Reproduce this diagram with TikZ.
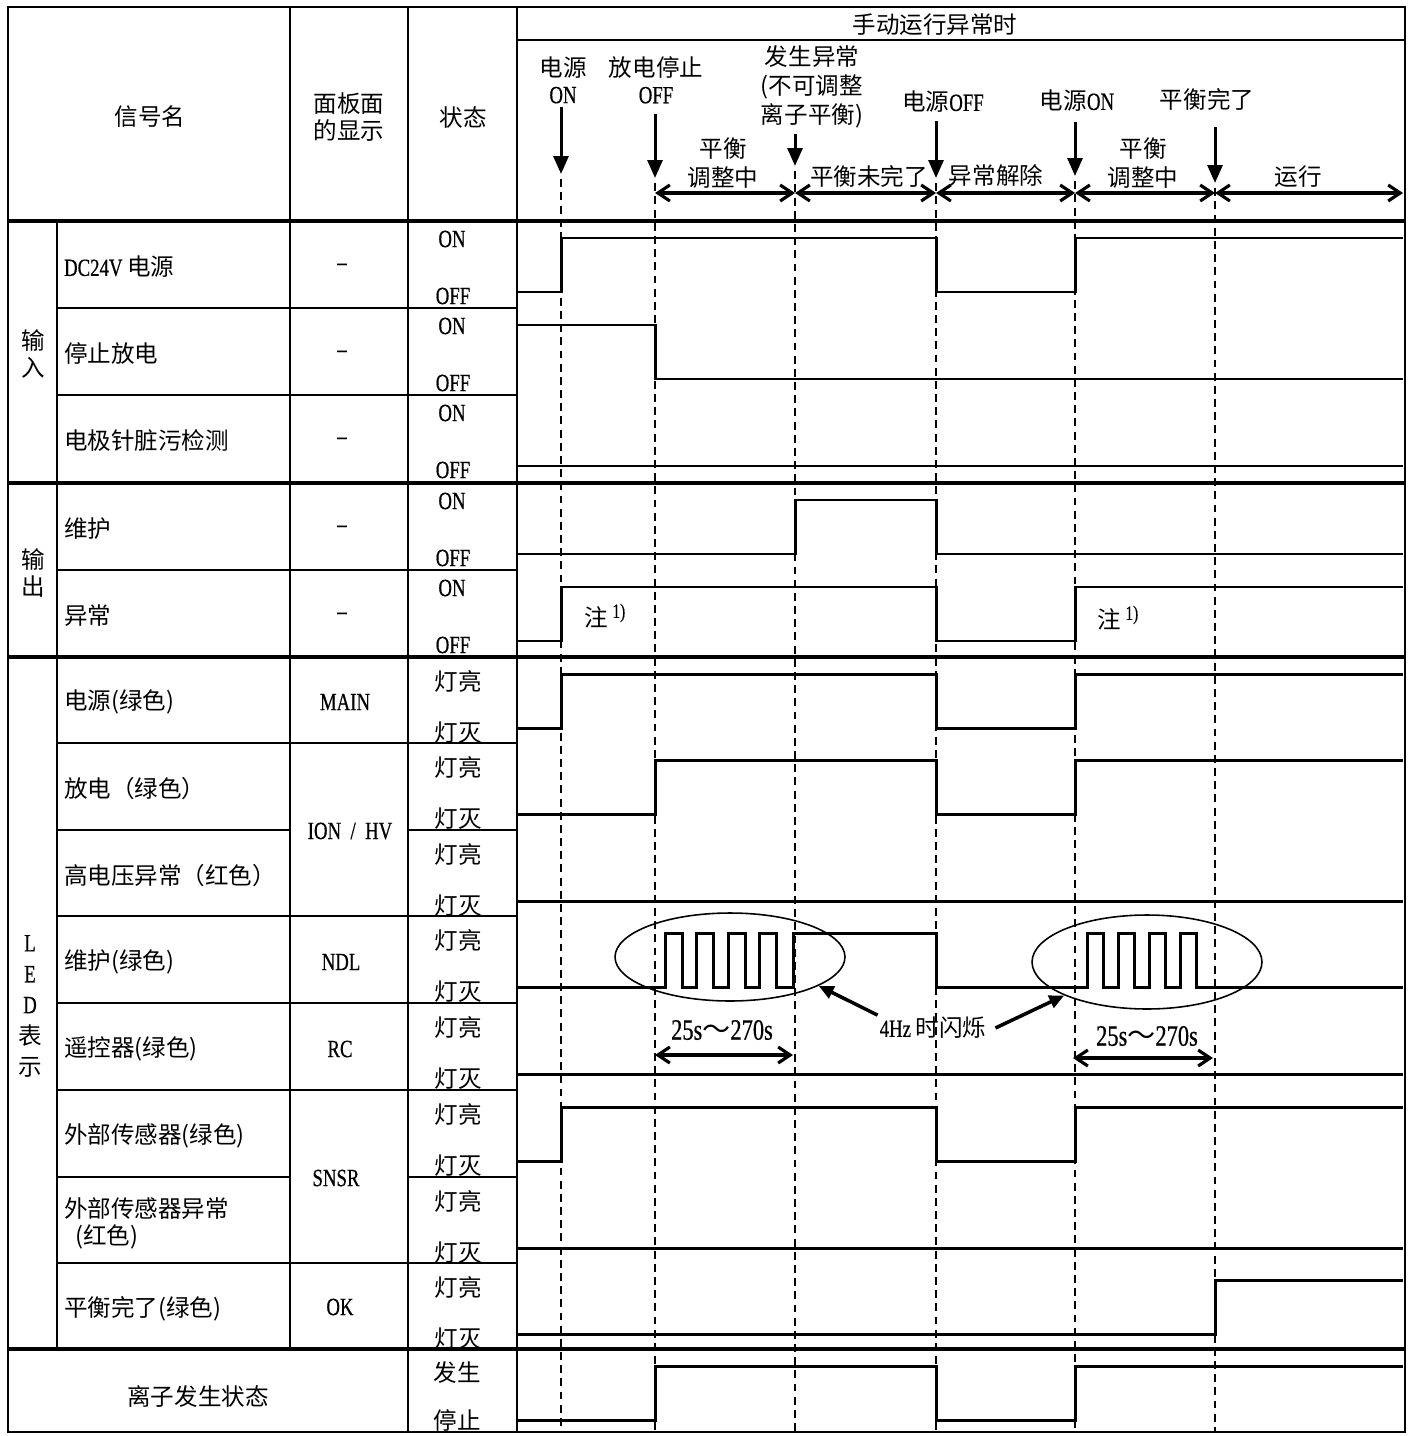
\documentclass[tikz,border=0pt]{standalone}
\usepackage{fontspec}
\setmainfont{Liberation Serif}[FakeStretch=0.76, Scale=1.05, FakeBold=0.5]
\newfontfamily\cjk{Noto Sans CJK SC}
\usepackage{tikz}
\usetikzlibrary{arrows.meta, positioning, calc, shapes.geometric}

\newcommand{\zh}[1]{{\cjk #1}}

\tikzstyle{tabline} = [line width=1.1pt]
\tikzstyle{groupline} = [line width=2.8pt]
\tikzstyle{wave} = [line width=1.7pt, line join=miter]
\tikzstyle{guide} = [line width=1.5pt, dash pattern=on 4.5pt off 3pt]
\tikzstyle{evarrow} = [-{Triangle[length=3.6mm,width=3mm]}, line width=1.7pt]
\tikzstyle{spanarrow} = [{Straight Barb[length=2.4mm,width=3.2mm]}-{Straight Barb[length=2.4mm,width=3.2mm]}, line width=1.8pt]
\tikzstyle{pointer} = [-{Triangle[length=3mm,width=2.6mm]}, line width=2pt]
\tikzstyle{txt} = [inner sep=1pt, font=\fontsize{13.4}{15.3}\selectfont]
\tikzstyle{rowname} = [txt, anchor=west]
\tikzstyle{ring} = [draw, ellipse, line width=0.9pt, minimum width=4.6cm, inner sep=0pt]

\begin{document}
\begin{tikzpicture}[x=0.02cm, y=-0.02cm]
    \useasboundingbox (0,0) rectangle (1414,1436);
    \coordinate (bottom) at (0,1432);

    % Table rules
    \draw[tabline] (8,7) rectangle (1405,1432);
    \draw[tabline] (517,40) -- (1405,40);
    \foreach \x in {290,408} \draw[tabline] (\x,7) -- (\x,221);
    \draw[tabline] (517,7) -- (517,1432);
    \draw[tabline] (408,221) -- (408,1432);
    \foreach \x in {57,290} \draw[tabline] (\x,221) -- (\x,1349);
    \foreach \y in {308,395,570,743,916,1003,1090,1263} \draw[tabline] (57,\y) -- (517,\y);
    \foreach \y in {830,1177} {
        \draw[tabline] (57,\y) -- (290,\y);
        \draw[tabline] (408,\y) -- (517,\y);
    }
    \foreach \y in {221,483,657,1349} \draw[groupline] (8,\y) -- (1405,\y);

    % Header
    \node[txt] (hName) at (150,117) {\zh{信号名}};
    \node[txt, align=center] (hPanel) at (349,117) {\zh{面板面}\\\zh{的显示}};
    \node[txt] (hState) at (463,117) {\zh{状态}};
    \node[txt] (hMode) at (935,25) {\zh{手动运行异常时}};

    % Groups
    \node[txt, align=center] (grpIn) at (33,354) {\zh{输}\\\zh{入}};
    \node[txt, align=center] (grpOut) at (33,573) {\zh{输}\\\zh{出}};
    \node[txt, align=center, font=\fontsize{13.4}{17.6}\selectfont] (grpLed) at (30,1006) {L\\E\\D\\\zh{表}\\\zh{示}};
    \node[txt] (ionName) at (198,1396) {\zh{离子发生状态}};

    % Signal names
    \node[rowname] (sig1) at (62,267) {DC24V \zh{电源}};
    \node[rowname] (sig2) at (62,354) {\zh{停止放电}};
    \node[rowname] (sig3) at (62,441) {\zh{电极针脏污检测}};
    \node[rowname] (sig4) at (62,529) {\zh{维护}};
    \node[rowname] (sig5) at (62,616) {\zh{异常}};
    \node[rowname] (sig6) at (62,702) {\zh{电源(绿色)}};
    \node[rowname] (sig7) at (62,789) {\zh{放电（绿色）}};
    \node[rowname] (sig8) at (62,876) {\zh{高电压异常（红色）}};
    \node[rowname] (sig9) at (62,962) {\zh{维护(绿色)}};
    \node[rowname] (sig10) at (62,1049) {\zh{遥控器(绿色)}};
    \node[rowname] (sig11) at (62,1136) {\zh{外部传感器(绿色)}};
    \node[rowname, align=left] (sig12) at (62,1223) {\zh{外部传感器异常}\\\hspace*{0.45em}\zh{(红色)}};
    \node[rowname] (sig13) at (62,1309) {\zh{平衡完了(绿色)}};

    % Panel display
    \foreach \t [count=\i] in {221,308,395,483,570} \node[txt] (dash\i) at (342,\t+46) {--};
    \node[txt] (pMain) at (345,702) {MAIN};
    \node[txt] (pIon) at (350,831) {ION \ / \ HV};
    \node[txt] (pNdl) at (341,962) {NDL};
    \node[txt] (pRc) at (340,1049) {RC};
    \node[txt] (pSnsr) at (336,1178) {SNSR};
    \node[txt] (pOk) at (340,1307) {OK};

    % States
    \foreach \t [count=\i] in {221,308,395,483,570} {
        \node[txt] (on\i) at (452,\t+18) {ON};
        \node[txt] (off\i) at (453,\t+75) {OFF};
    }
    \foreach \t [count=\i] in {657,743,830,916,1003,1090,1177,1263} {
        \node[txt] (lit\i) at (458,\t+24) {\zh{灯亮}};
        \node[txt] (dark\i) at (458,\t+76) {\zh{灯灭}};
    }
    \node[txt] (ionOn) at (457,1373) {\zh{发生}};
    \node[txt] (ionOff) at (457,1420) {\zh{停止}};

    % Events
    \coordinate (gA) at (561,174);
    \coordinate (gB) at (655,178);
    \coordinate (gC) at (795,166);
    \coordinate (gD) at (936,178);
    \coordinate (gE) at (1075,176);
    \coordinate (gF) at (1215,183);
    \foreach \g in {gA,gB,gC,gD,gE,gF} \draw[guide] ([yshift=-3pt]\g) -- (\g |- bottom);

    \node[txt, align=center] (evOn) at (563,80) {\zh{电源}\\ON};
    \node[txt, align=center] (evStop) at (656,80) {\zh{放电停止}\\OFF};
    \node[txt, align=center, font=\fontsize{13.4}{16.4}\selectfont] (evErr) at (812,87) {\zh{发生异常}\\\zh{(不可调整}\\\zh{离子平衡)}};
    \node[txt] (evOff) at (943,102) {\zh{电源}OFF};
    \node[txt] (evOn2) at (1077,101) {\zh{电源}ON};
    \node[txt] (evDone) at (1207,99) {\zh{平衡完了}};
    \draw[evarrow, shorten <=1pt] (evOn.south -| gA) -- (gA);
    \draw[evarrow, shorten <=4.5pt] (evStop.south -| gB) -- (gB);
    \draw[evarrow, shorten <=2pt] (evErr.south -| gC) -- (gC);
    \draw[evarrow, shorten <=3.5pt] (evOff.south -| gD) -- (gD);
    \draw[evarrow, shorten <=4.5pt] (evOn2.south -| gE) -- (gE);
    \draw[evarrow, shorten <=8.5pt] (evDone.south -| gF) -- (gF);

    % Phases
    \coordinate (sB) at (655,193);
    \coordinate (sC) at (795,193);
    \coordinate (sD) at (936,193);
    \coordinate (sE) at (1075,193);
    \coordinate (sF) at (1215,193);
    \coordinate (sR) at (1403,193);
    \draw[spanarrow] (sB) -- (sC);
    \draw[spanarrow] (sC) -- (sD);
    \draw[spanarrow] (sD) -- (sE);
    \draw[spanarrow] (sE) -- (sF);
    \draw[spanarrow] (sF) -- (sR);
    \node[txt, align=center, font=\fontsize{13.4}{16.4}\selectfont] (balA) at (723,163) {\zh{平衡}\\\zh{调整中}};
    \node[txt] (pend) at (869,176) {\zh{平衡未完了}};
    \node[txt] (clear) at (996,176) {\zh{异常解除}};
    \node[txt, align=center, font=\fontsize{13.4}{16.4}\selectfont] (balB) at (1143,163) {\zh{平衡}\\\zh{调整中}};
    \node[txt] (run) at (1298,177) {\zh{运行}};

    % Waveforms
    \draw[wave] (517,292) -| (561,238) -| (936,292) -| (1075,238) -- (1403,238);
    \draw[wave] (517,325) -| (655,379) -- (1403,379);
    \draw[wave] (517,466) -- (1403,466);
    \draw[wave] (517,554) -| (795,500) -| (936,554) -- (1403,554);
    \draw[wave] (517,641) -| (561,587) -| (936,641) -| (1075,587) -- (1403,587);
    \draw[wave] (517,728) -| (561,674) -| (936,728) -| (1075,674) -- (1403,674);
    \draw[wave] (517,814) -| (655,760) -| (936,814) -| (1075,760) -- (1403,760);
    \draw[wave] (517,901) -- (1403,901);
    \draw[wave] (517,987) foreach \p in {665,696.5,728,759.5} { -| (\p,933) -| (\p+17,987) }
        -| (793,933) -| (936,987)
        foreach \p in {1087,1118,1149,1180} { -| (\p,933) -| (\p+16,987) } -- (1403,987);
    \draw[wave] (517,1074) -- (1403,1074);
    \draw[wave] (517,1161) -| (561,1107) -| (936,1161) -| (1075,1107) -- (1403,1107);
    \draw[wave] (517,1248) -- (1403,1248);
    \draw[wave] (517,1334) -| (1215,1280) -- (1403,1280);
    \draw[wave] (517,1420) -| (655,1366) -| (936,1420) -| (1075,1366) -- (1403,1366);

    % Notes
    \node[txt] (noteA) at (605,616) {\zh{注}\,\raisebox{0.35em}{\fontsize{11}{12}\selectfont 1)}};
    \node[txt] (noteB) at (1118,618) {\zh{注}\,\raisebox{0.35em}{\fontsize{11}{12}\selectfont 1)}};

    % Blinking
    \node[ring, minimum height=1.76cm] (ring1) at (730,957) {};
    \node[ring, minimum height=1.88cm] (ring2) at (1147,962) {};
    \node[txt] (hz) at (933,1028) {4Hz \zh{时闪烁}};
    \draw[pointer] (hz.north west) -- (ring1.-18);
    \draw[pointer] ([xshift=4pt]hz.east) -- (ring2.-158);

    \coordinate (dB) at (655,1055);
    \coordinate (dC) at (793,1055);
    \coordinate (dE) at (1073,1058);
    \coordinate (dF) at (1213,1058);
    \draw[spanarrow] (dB) -- (dC);
    \draw[spanarrow] (dE) -- (dF);
    \node[txt, font=\fontsize{16}{18}\selectfont] (durA) at (722,1030) {25s\zh{～}270s};
    \node[txt, font=\fontsize{16}{18}\selectfont] (durB) at (1147,1036) {25s\zh{～}270s};
\end{tikzpicture}
\end{document}
